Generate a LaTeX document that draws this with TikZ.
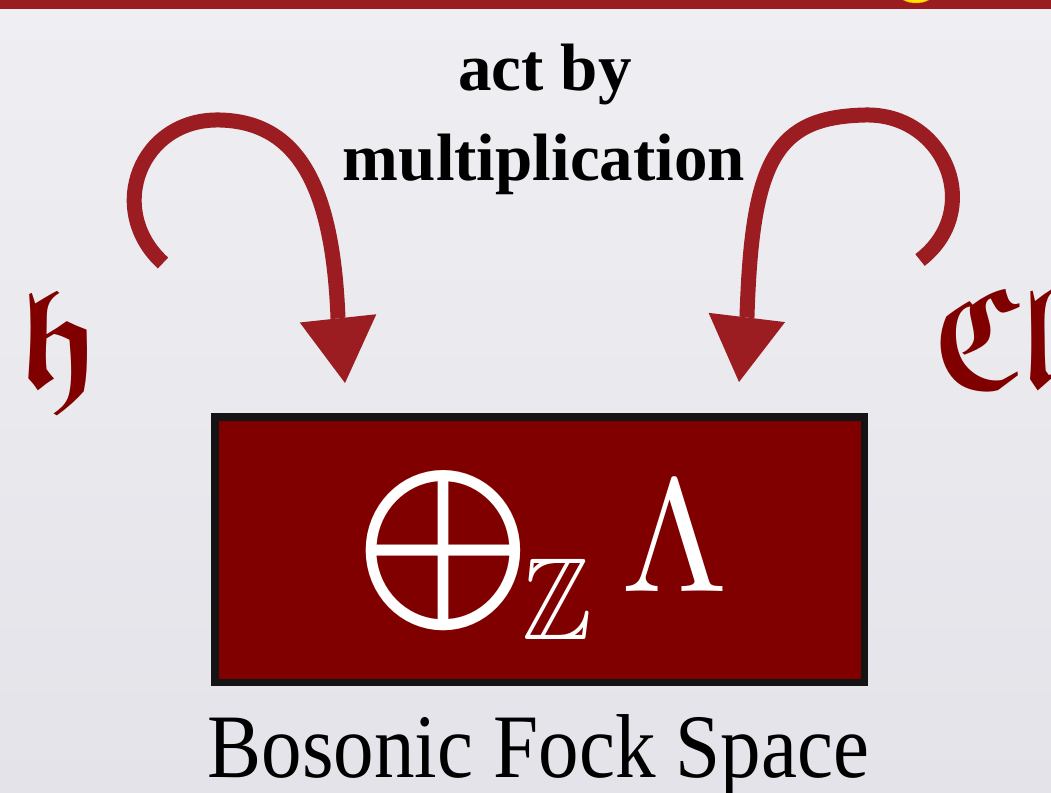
\documentclass[tikz,border=0pt]{standalone}
\usepackage{amsmath,amssymb}
\usepackage[no-math]{fontspec}
\setmainfont{Liberation Serif}
\usetikzlibrary{arrows.meta,positioning}
\definecolor{barred}{RGB}{154,28,32}
\definecolor{arrowred}{RGB}{155,29,33}
\definecolor{darkmaroon}{RGB}{128,0,0}
\definecolor{bgtop}{RGB}{239,239,243}
\definecolor{bgbottom}{RGB}{227,227,233}
\tikzset{
  act-label/.style   = {inner sep=0pt, font=\fontsize{67}{80}\selectfont\bfseries},
  space-label/.style = {inner sep=0pt, font=\fontsize{81}{90}\selectfont},
  frak-letter/.style = {inner sep=0pt, text=darkmaroon},
  act-arrow/.style   = {draw=arrowred, line width=15pt, -{Triangle[width=77pt,length=65pt,line width=0pt]}},
  fock-box/.style    = {draw=black!92, line width=7.5pt, fill=darkmaroon, text=white,
                        minimum width=649.5pt, minimum height=265.5pt, inner sep=0pt}
}

\begin{document}
\begin{tikzpicture}[x=1pt, y=-1pt]
    \shade[top color=bgtop, bottom color=bgbottom] (0,0) rectangle (1051,792);
    \useasboundingbox (0,0) rectangle (1051,792);
    \fill[barred] (0,0) rectangle (1051,9);
    \fill[draw=orange, fill=yellow!85!orange] (916,-6) ellipse (17 and 9);

    \node [act-label, anchor=base] (actby) at (545,90) {act by};
    \node [act-label, anchor=base] (mult) at (544,180) {multiplication};

    \node [frak-letter, anchor=base] (lie) at (60,387) {\scalebox{14}{$\boldsymbol{\mathfrak{h}}$}};
    \node [frak-letter, anchor=base west] (cliff) at (932,387) {\scalebox{12}[14.5]{$\boldsymbol{\mathfrak{Cl}}$}};

    \node [fock-box] (fock) at (539.5,549.5) {\raisebox{-41.5pt}[100pt][100pt]{\hspace{7pt}%
        \scalebox{13.7}[16.7]{$\mathop{\scalebox{1.13}[0.96]{$\bigoplus$}\mkern-1mu}\nolimits_{\scalebox{1.09}[1]{$\scriptstyle\mathbb{Z}$}}
        \scalebox{1.12}[0.96]{$\Lambda$}$}}};
    \node [space-label, anchor=base] (bfs) at (538.5,777) {\scalebox{1}[1.12]{Bosonic Fock Space}};

    \coordinate (lie-out) at (163,263);
    \coordinate (lie-top) at (220,120);
    \coordinate (lie-in) at (345,383);
    \coordinate (cliff-out) at (920,260);
    \coordinate (cliff-top) at (865,115);
    \coordinate (cliff-in) at (739,382);

    \draw [act-arrow] (lie-out) .. controls (105,210) and (140,118) .. (lie-top)
        .. controls (300,122) and (333,190) .. (338,318) -- (lie-in);
    \draw [act-arrow] (cliff-out) .. controls (985,210) and (945,113) .. (cliff-top)
        .. controls (775,117) and (752,160) .. (747,316) -- (cliff-in);
\end{tikzpicture}
\end{document}
